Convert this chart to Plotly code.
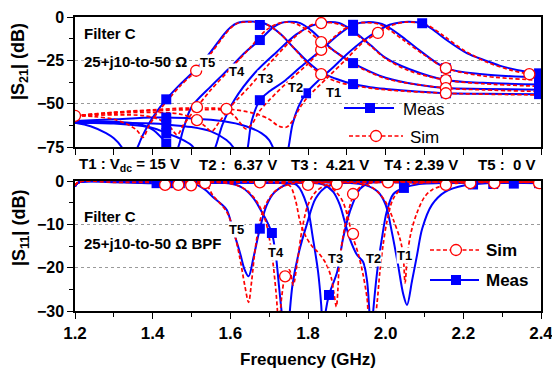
import plotly.graph_objects as go

W, H = 552, 371
ML, MR, MT, MB = 75, 11, 17, 60
PW = W - ML - MR
PH = H - MT - MB


def px(x):
    return (x - ML) / PW


def py(y):
    return (H - MB - y) / PH


BLUE = "#0000ff"
RED = "#ff0000"
FONT = "Arial, 'Liberation Sans', sans-serif"

# ---------------- |S21| measured ----------------
S21_MEAS_T5_F = [1.20, 1.24, 1.28, 1.30, 1.32, 1.337, 1.355, 1.375, 1.40, 1.435, 1.47, 1.512, 1.55, 1.58, 1.60, 1.62, 1.65, 1.68, 1.70, 1.73, 1.76, 1.80, 1.834, 1.87, 1.916, 1.96, 2.00, 2.08, 2.155, 2.25, 2.40]
S21_MEAS_T5_DB = [-61, -63, -67, -70, -75, -84, -78, -68, -58, -47.5, -39, -30, -20, -11, -6, -3.3, -2.6, -3.2, -5, -10, -17, -26, -32, -35.5, -38.7, -40.5, -41.5, -43, -44, -44.3, -44.5]
S21_MEAS_T4_F = [1.20, 1.30, 1.37, 1.40, 1.42, 1.435, 1.445, 1.46, 1.48, 1.50, 1.55, 1.60, 1.64, 1.676, 1.71, 1.73, 1.75, 1.78, 1.81, 1.834, 1.87, 1.916, 1.96, 2.00, 2.08, 2.155, 2.25, 2.40]
S21_MEAS_T4_DB = [-60, -60.5, -62, -65, -69, -73, -80, -78, -64, -52, -40, -29, -20, -13.3, -6, -3.5, -2.8, -3.5, -8, -13, -20, -26.6, -31.5, -35, -39, -41, -41.5, -42]
S21_MEAS_T3_F = [1.20, 1.30, 1.40, 1.435, 1.47, 1.50, 1.52, 1.54, 1.56, 1.58, 1.61, 1.664, 1.72, 1.77, 1.81, 1.845, 1.88, 1.916, 1.96, 2.00, 2.06, 2.155, 2.25, 2.40]
S21_MEAS_T3_DB = [-61, -61.5, -64, -67, -70, -74, -80, -84, -76, -62, -48, -32, -20, -10, -5, -3, -3.5, -8, -16, -23.6, -30, -36.4, -38, -39]
S21_MEAS_T2_F = [1.20, 1.30, 1.40, 1.435, 1.50, 1.55, 1.59, 1.61, 1.625, 1.64, 1.655, 1.676, 1.70, 1.736, 1.78, 1.834, 1.88, 1.916, 1.95, 1.98, 2.00, 2.04, 2.08, 2.155, 2.25, 2.40]
S21_MEAS_T2_DB = [-61, -61, -61.5, -62, -63.5, -66, -71, -76, -84, -80, -60, -48, -43, -37.5, -29, -19, -10, -4.5, -3, -3.5, -5, -11, -18, -29.5, -33, -35]
S21_MEAS_T1_F = [1.20, 1.30, 1.40, 1.435, 1.50, 1.58, 1.64, 1.68, 1.70, 1.715, 1.73, 1.745, 1.76, 1.775, 1.795, 1.83, 1.86, 1.90, 1.94, 1.98, 2.01, 2.04, 2.06, 2.094, 2.12, 2.155, 2.21, 2.256, 2.30, 2.367, 2.40]
S21_MEAS_T1_DB = [-60, -59, -58, -58, -58.5, -60, -63, -67, -71, -78, -86, -80, -62, -52, -44, -36, -30, -21.5, -14, -8, -4.5, -3, -2.7, -3.6, -7, -13, -21, -25, -28.5, -31.7, -32.5]

# measured marker readings
S21_MEAS_T5_MF = [1.435, 1.676, 1.916, 2.155, 2.395]
S21_MEAS_T5_MDB = [-47.5, -4.6, -38.7, -44, -44.5]
S21_MEAS_T4_MF = [1.435, 1.676, 1.916, 2.155, 2.395]
S21_MEAS_T4_MDB = [-73, -13.3, -26.6, -41, -42]
S21_MEAS_T3_MF = [1.435, 1.916, 2.155, 2.395]
S21_MEAS_T3_MDB = [-67, -8, -36.4, -39]
S21_MEAS_T2_MF = [1.435, 1.676, 1.916, 2.155, 2.395]
S21_MEAS_T2_MDB = [-62, -48, -4.5, -29.5, -35]
S21_MEAS_T1_MF = [1.435, 1.795, 2.094, 2.395]
S21_MEAS_T1_MDB = [-58, -44, -3.6, -32.5]

# ---------------- |S21| simulated ----------------
S21_SIM_T5_F = [1.20, 1.25, 1.30, 1.34, 1.36, 1.375, 1.39, 1.41, 1.435, 1.47, 1.512, 1.55, 1.58, 1.60, 1.62, 1.65, 1.68, 1.70, 1.73, 1.76, 1.80, 1.834, 1.87, 1.916, 2.00, 2.155, 2.25, 2.40]
S21_SIM_T5_DB = [-57, -57.5, -59, -62.5, -65.5, -69.5, -63, -56, -49, -40, -31, -21, -12, -6.5, -3.5, -2.8, -3.2, -5, -10, -17, -27, -33, -37, -39.5, -42, -44, -44.5, -45]
S21_SIM_T4_F = [1.20, 1.30, 1.38, 1.42, 1.445, 1.463, 1.48, 1.514, 1.55, 1.60, 1.65, 1.69, 1.72, 1.745, 1.77, 1.80, 1.834, 1.87, 1.916, 2.00, 2.155, 2.25, 2.40]
S21_SIM_T4_DB = [-57, -56.5, -57, -59.5, -63.5, -68, -62, -52, -42, -30, -18, -8, -4, -3, -4, -8, -14.5, -20, -27, -35.5, -41, -42, -43]
S21_SIM_T3_F = [1.20, 1.30, 1.40, 1.47, 1.514, 1.535, 1.552, 1.57, 1.60, 1.65, 1.70, 1.75, 1.79, 1.815, 1.834, 1.86, 1.89, 1.916, 1.96, 2.00, 2.06, 2.155, 2.25, 2.40]
S21_SIM_T3_DB = [-57, -55.5, -55, -56, -59.5, -63, -66, -61, -52, -40, -27, -15, -7, -4, -3.5, -3.3, -5, -8.5, -16.5, -24, -31, -36.4, -38.5, -40]
S21_SIM_T2_F = [1.20, 1.30, 1.40, 1.514, 1.59, 1.61, 1.625, 1.64, 1.655, 1.673, 1.70, 1.75, 1.80, 1.834, 1.87, 1.90, 1.93, 1.95, 1.98, 2.00, 2.05, 2.10, 2.155, 2.25, 2.40]
S21_SIM_T2_DB = [-57, -55, -54, -53.5, -54, -57, -61, -64.5, -62, -55, -48, -37, -27, -19, -11, -6, -3.5, -3.2, -4, -6, -14, -22, -29.5, -34, -36.5]
S21_SIM_T1_F = [1.20, 1.30, 1.40, 1.50, 1.59, 1.66, 1.70, 1.725, 1.745, 1.76, 1.78, 1.80, 1.85, 1.90, 1.94, 1.98, 2.02, 2.05, 2.08, 2.11, 2.15, 2.20, 2.26, 2.32, 2.37, 2.40]
S21_SIM_T1_DB = [-57, -55, -53.5, -52.5, -53, -55.5, -59, -63, -63.5, -60, -52, -46, -35, -24, -15, -9.2, -4.5, -3, -3.2, -5, -11, -19, -26, -30.5, -33, -34]

S21_SIM_T5_MF = [1.20, 1.512, 1.834, 2.155]
S21_SIM_T5_MDB = [-57, -31, -33, -44]
S21_SIM_T4_MF = [1.514, 1.834, 2.155]
S21_SIM_T4_MDB = [-52, -14.5, -41]
S21_SIM_T3_MF = [1.514, 1.834, 2.155]
S21_SIM_T3_MDB = [-59.5, -3.5, -36.4]
S21_SIM_T2_MF = [1.834, 2.155]
S21_SIM_T2_MDB = [-19, -29.5]
S21_SIM_T1_MF = [1.59, 1.98, 2.37]
S21_SIM_T1_MDB = [-53, -9.2, -33]

# ---------------- |S11| measured ----------------
S11_MEAS_T5_F = [1.20, 1.21, 1.30, 1.40, 1.45, 1.50, 1.514, 1.535, 1.555, 1.575, 1.591, 1.607, 1.625, 1.637, 1.647, 1.66, 1.676, 1.694, 1.715, 1.754, 1.80, 2.00, 2.40]
S11_MEAS_T5_DB = [-1.2, -0.3, -0.3, -0.5, -0.6, -0.6, -0.9, -2, -3.7, -5.2, -6.7, -11.3, -16.6, -20.5, -22, -17.5, -11, -5.5, -2.5, -0.5, -0.3, -0.3, -0.4]
S11_MEAS_T4_F = [1.20, 1.21, 1.40, 1.55, 1.60, 1.63, 1.66, 1.68, 1.695, 1.707, 1.717, 1.725, 1.733, 1.742, 1.75, 1.76, 1.775, 1.797, 1.82, 1.85, 1.90, 2.10, 2.40]
S11_MEAS_T4_DB = [-1.2, -0.3, -0.4, -0.4, -0.6, -1.5, -4, -7, -9.5, -12, -17, -24, -31, -38, -33, -24, -17, -10, -4, -1.2, -0.4, -0.3, -0.4]
S11_MEAS_T3_F = [1.20, 1.21, 1.50, 1.70, 1.74, 1.772, 1.797, 1.813, 1.826, 1.834, 1.839, 1.844, 1.854, 1.875, 1.89, 1.908, 1.934, 1.96, 2.10, 2.40]
S11_MEAS_T3_DB = [-1.2, -0.3, -0.4, -0.4, -0.5, -1, -5.5, -13.4, -21, -28.6, -36, -31, -26.3, -21, -13.4, -7, -1.8, -0.4, -0.3, -0.4]
S11_MEAS_T2_F = [1.20, 1.21, 1.60, 1.80, 1.84, 1.865, 1.882, 1.895, 1.908, 1.926, 1.942, 1.952, 1.958, 1.963, 1.967, 1.978, 1.99, 2.003, 2.02, 2.047, 2.08, 2.20, 2.40]
S11_MEAS_T2_DB = [-1.2, -0.3, -0.4, -0.4, -0.8, -2.5, -5.5, -9.5, -13.4, -17, -18.7, -23, -30, -36, -31, -21, -13.4, -7, -3, -1.6, -0.8, -0.4, -0.5]
S11_MEAS_T1_F = [1.20, 1.21, 1.70, 1.90, 1.95, 1.98, 2.00, 2.016, 2.032, 2.045, 2.055, 2.068, 2.081, 2.094, 2.119, 2.153, 2.204, 2.26, 2.40]
S11_MEAS_T1_DB = [-1.2, -0.3, -0.4, -0.4, -1, -2.5, -5.5, -11.8, -19.4, -26, -28.6, -23, -17, -11, -5.5, -2.5, -1, -0.5, -0.5]

S11_MEAS_T5_MF = [1.676]
S11_MEAS_T5_MDB = [-11]
S11_MEAS_T4_MF = [1.707]
S11_MEAS_T4_MDB = [-12]
S11_MEAS_T3_MF = [1.854]
S11_MEAS_T3_MDB = [-26.3]
S11_MEAS_T2_MF = [2.047]
S11_MEAS_T2_MDB = [-1.6]
S11_MEAS_T1_MF = [1.41, 1.44, 1.47, 2.225, 2.277, 2.33, 2.395]
S11_MEAS_T1_MDB = [-0.5, -0.5, -0.5, -0.8, -0.7, -0.6, -0.5]

# ---------------- |S11| simulated ----------------
S11_SIM_T5_F = [1.20, 1.21, 1.30, 1.40, 1.432, 1.45, 1.466, 1.482, 1.499, 1.515, 1.535, 1.555, 1.59, 1.61, 1.625, 1.637, 1.647, 1.655, 1.665, 1.68, 1.70, 1.72, 1.76, 1.80, 2.00, 2.40]
S11_SIM_T5_DB = [-1.0, -0.2, -0.3, -0.4, -0.9, -0.5, -0.9, -0.5, -1, -0.6, -0.5, -3.3, -7, -12, -18, -24, -28, -23, -15, -8, -4, -2, -0.6, -0.3, -0.3, -0.3]
S11_SIM_T4_F = [1.20, 1.21, 1.50, 1.60, 1.64, 1.67, 1.69, 1.70, 1.71, 1.718, 1.725, 1.732, 1.741, 1.752, 1.762, 1.772, 1.785, 1.80, 1.82, 1.85, 1.90, 2.40]
S11_SIM_T4_DB = [-1.0, -0.2, -0.3, -0.6, -2, -5, -9, -13, -19, -26, -33, -27, -22, -20.5, -24, -19, -11, -5.5, -2.5, -0.8, -0.3, -0.3]
S11_SIM_T3_F = [1.20, 1.21, 1.60, 1.70, 1.73, 1.754, 1.768, 1.78, 1.795, 1.81, 1.821, 1.835, 1.846, 1.859, 1.867, 1.873, 1.877, 1.88, 1.89, 1.903, 1.918, 1.94, 1.97, 2.40]
S11_SIM_T3_DB = [-1.0, -0.2, -0.3, -0.3, -0.5, -1.2, -4.5, -9.5, -12.9, -15, -16, -17.5, -19, -22, -26, -29, -25, -19.9, -12.9, -7.4, -3.2, -1, -0.4, -0.3]
S11_SIM_T2_F = [1.20, 1.21, 1.70, 1.80, 1.85, 1.875, 1.89, 1.903, 1.913, 1.93, 1.942, 1.952, 1.96, 1.97, 1.978, 1.985, 1.993, 2.003, 2.02, 2.05, 2.10, 2.40]
S11_SIM_T2_DB = [-1.0, -0.2, -0.3, -0.3, -1, -2.8, -4.8, -8.5, -12.2, -17, -21.7, -27, -34, -33, -28, -21, -15, -9.5, -4, -1.2, -0.4, -0.3]
S11_SIM_T1_F = [1.20, 1.21, 1.80, 1.90, 1.95, 1.97, 1.985, 2.001, 2.02, 2.037, 2.045, 2.05, 2.056, 2.065, 2.08, 2.10, 2.12, 2.16, 2.20, 2.40]
S11_SIM_T1_DB = [-1.0, -0.2, -0.3, -0.4, -0.8, -1.8, -3, -5, -9, -13.4, -17, -23.5, -17, -12, -7.5, -3.7, -2, -0.8, -0.4, -0.3]

S11_SIM_T5_MF = [1.432, 1.466, 1.499, 1.535]
S11_SIM_T5_MDB = [-0.9, -0.9, -1.0, -0.5]
S11_SIM_T4_MF = [1.741, 2.006]
S11_SIM_T4_MDB = [-22, -0.3]
S11_SIM_T3_MF = [1.676, 1.916]
S11_SIM_T3_MDB = [-0.3, -3.0]
S11_SIM_T2_MF = [1.80, 1.916, 2.155]
S11_SIM_T2_MDB = [-0.9, -12.2, -0.9]
S11_SIM_T1_MF = [1.874, 2.218, 2.28, 2.395]
S11_SIM_T1_MDB = [-0.7, -0.5, -0.5, -0.5]

STATE_LABELS = ["T1", "T2", "T3", "T4", "T5"]
BIAS_TEXT = ["T1 : V<sub>dc</sub> = 15 V", "T2 :  6.37 V", "T3 :  4.21 V", "T4 : 2.39 V", "T5 :  0 V"]

fig = go.Figure()


def line(f, db, color, dash, xa, ya, width):
    fig.add_trace(go.Scatter(x=f, y=db, mode="lines", xaxis=xa, yaxis=ya,
                             line=dict(color=color, width=width, dash=dash, shape="spline", smoothing=0.9),
                             showlegend=False, hoverinfo="skip"))


def marks(f, db, kind, xa, ya):
    if kind == "sq":
        m = dict(symbol="square", size=10, color=BLUE, line=dict(width=0))
    else:
        m = dict(symbol="circle", size=11, color="white", line=dict(color=RED, width=1.3))
    fig.add_trace(go.Scatter(x=f, y=db, mode="markers", xaxis=xa, yaxis=ya, marker=m,
                             showlegend=False, hoverinfo="skip", cliponaxis=True))


meas21 = [(S21_MEAS_T1_F, S21_MEAS_T1_DB), (S21_MEAS_T2_F, S21_MEAS_T2_DB), (S21_MEAS_T3_F, S21_MEAS_T3_DB),
          (S21_MEAS_T4_F, S21_MEAS_T4_DB), (S21_MEAS_T5_F, S21_MEAS_T5_DB)]
sim21 = [(S21_SIM_T1_F, S21_SIM_T1_DB), (S21_SIM_T2_F, S21_SIM_T2_DB), (S21_SIM_T3_F, S21_SIM_T3_DB),
         (S21_SIM_T4_F, S21_SIM_T4_DB), (S21_SIM_T5_F, S21_SIM_T5_DB)]
meas21m = [(S21_MEAS_T1_MF, S21_MEAS_T1_MDB), (S21_MEAS_T2_MF, S21_MEAS_T2_MDB), (S21_MEAS_T3_MF, S21_MEAS_T3_MDB),
           (S21_MEAS_T4_MF, S21_MEAS_T4_MDB), (S21_MEAS_T5_MF, S21_MEAS_T5_MDB)]
sim21m = [(S21_SIM_T1_MF, S21_SIM_T1_MDB), (S21_SIM_T2_MF, S21_SIM_T2_MDB), (S21_SIM_T3_MF, S21_SIM_T3_MDB),
          (S21_SIM_T4_MF, S21_SIM_T4_MDB), (S21_SIM_T5_MF, S21_SIM_T5_MDB)]
meas11 = [(S11_MEAS_T1_F, S11_MEAS_T1_DB), (S11_MEAS_T2_F, S11_MEAS_T2_DB), (S11_MEAS_T3_F, S11_MEAS_T3_DB),
          (S11_MEAS_T4_F, S11_MEAS_T4_DB), (S11_MEAS_T5_F, S11_MEAS_T5_DB)]
sim11 = [(S11_SIM_T1_F, S11_SIM_T1_DB), (S11_SIM_T2_F, S11_SIM_T2_DB), (S11_SIM_T3_F, S11_SIM_T3_DB),
         (S11_SIM_T4_F, S11_SIM_T4_DB), (S11_SIM_T5_F, S11_SIM_T5_DB)]
meas11m = [(S11_MEAS_T1_MF, S11_MEAS_T1_MDB), (S11_MEAS_T2_MF, S11_MEAS_T2_MDB), (S11_MEAS_T3_MF, S11_MEAS_T3_MDB),
           (S11_MEAS_T4_MF, S11_MEAS_T4_MDB), (S11_MEAS_T5_MF, S11_MEAS_T5_MDB)]
sim11m = [(S11_SIM_T1_MF, S11_SIM_T1_MDB), (S11_SIM_T2_MF, S11_SIM_T2_MDB), (S11_SIM_T3_MF, S11_SIM_T3_MDB),
          (S11_SIM_T4_MF, S11_SIM_T4_MDB), (S11_SIM_T5_MF, S11_SIM_T5_MDB)]

DASH = "4px,2.5px"
for f, d in meas21:
    line(f, d, BLUE, "solid", "x", "y", 2)
for f, d in sim21:
    line(f, d, RED, DASH, "x", "y", 1.7)
for f, d in meas11:
    line(f, d, BLUE, "solid", "x2", "y2", 2)
for f, d in sim11:
    line(f, d, RED, DASH, "x2", "y2", 1.7)
for f, d in meas21m:
    marks(f, d, "sq", "x", "y")
for f, d in meas11m:
    marks(f, d, "sq", "x2", "y2")
for f, d in sim21m:
    marks(f, d, "ci", "x", "y")
for f, d in sim11m:
    marks(f, d, "ci", "x2", "y2")

tickfont = dict(family=FONT, size=16, color="black", weight="bold")
common = dict(showline=True, linecolor="black", linewidth=1.5, zeroline=False, automargin=False,
              tickcolor="black", tickwidth=1.3)

fig.update_layout(
    width=W, height=H, margin=dict(l=ML, r=MR, t=MT, b=MB, autoexpand=False),
    paper_bgcolor="white", plot_bgcolor="white", showlegend=False,
    font=dict(family=FONT, color="black"),
    xaxis=dict(domain=[0, 1], anchor="y", range=[1.2, 2.4], tick0=1.2, dtick=0.1, ticks="outside",
               ticklen=6, showticklabels=False, showgrid=False, mirror=True, **common),
    yaxis=dict(domain=[py(147), 1], anchor="x", range=[-75, 0], tick0=0, dtick=25, ticks="outside",
               ticklen=6, minor=dict(dtick=12.5, ticks="outside", ticklen=4, tickcolor="black"),
               showgrid=True, gridcolor="#9a9a9a", griddash="dot", gridwidth=1, mirror=True,
               tickfont=tickfont, ticklabeloverflow="allow", **common),
    yaxis3=dict(overlaying="y", side="right", anchor="x", range=[-75, 0], tick0=0, dtick=12.5,
                ticks="inside", ticklen=5, tickcolor="black", tickwidth=1.3, showticklabels=False,
                showgrid=False, showline=False, zeroline=False, automargin=False),
    xaxis2=dict(domain=[0, 1], anchor="y2", range=[1.2, 2.4], tick0=1.2, dtick=0.2, ticks="outside",
                ticklen=6, minor=dict(dtick=0.1, ticks="outside", ticklen=4, tickcolor="black"),
                tickformat=".1f", showgrid=False, mirror=True, ticklabeloverflow="allow",
                tickfont=dict(family=FONT, size=17, color="black", weight="bold"), **common),
    yaxis2=dict(domain=[0, py(181)], anchor="x2", range=[-30, 0], tick0=0, dtick=10, ticks="outside",
                ticklen=6, minor=dict(dtick=5, ticks="outside", ticklen=4, tickcolor="black"),
                showgrid=True, gridcolor="#9a9a9a", griddash="dot", gridwidth=1, mirror=True,
                tickfont=tickfont, ticklabeloverflow="allow", **common),
    yaxis4=dict(overlaying="y2", side="right", anchor="x2", range=[-30, 0], tick0=0, dtick=5,
                ticks="inside", ticklen=5, tickcolor="black", tickwidth=1.3, showticklabels=False,
                showgrid=False, showline=False, zeroline=False, automargin=False),
)

ann = []


def text(x, y, s, size, bold=True, xanchor="left", angle=0, bg=None):
    d = dict(x=px(x), y=py(y), xref="paper", yref="paper", text=s, showarrow=False,
             xanchor=xanchor, yanchor="middle", textangle=angle,
             font=dict(family=FONT, size=size, color="black", weight="bold" if bold else "normal"))
    if bg:
        d["bgcolor"] = bg
        d["borderpad"] = 0
    ann.append(d)


# axis titles
text(20, 62, "|S<sub>21</sub>| (dB)", 18, xanchor="center", angle=-90)
text(20, 228, "|S<sub>11</sub>| (dB)", 18, xanchor="center", angle=-90)
text(308, 359, "Frequency (GHz)", 17, xanchor="center")

# top panel labels
text(82, 34, "Filter C", 15)
text(82, 61, "25+j10-to-50 Ω", 15)
top_lbl_xy = [(333, 93), (295, 87), (265, 78), (237, 71), (207, 63)]
for s, (x, y) in zip(STATE_LABELS, top_lbl_xy):
    text(x, y, s, 13, xanchor="center", bg="white")

# bias row
bias_x = [77, 197, 289, 382, 476]
for s, x in zip(BIAS_TEXT, bias_x):
    text(x, 164, s, 15)

# bottom panel labels
text(82, 216, "Filter C", 15)
text(82, 243, "25+j10-to-50 Ω BPF", 15)
bot_lbl_xy = [(404, 255), (373, 258), (335, 258), (276, 252), (236, 229)]
for s, (x, y) in zip(STATE_LABELS, bot_lbl_xy):
    text(x, y, s, 13, xanchor="center", bg="white")

# legends
text(401, 109, "Meas", 17, bold=False)
text(408, 137, "Sim", 17, bold=False)
text(484, 250, "Sim", 17)
text(484, 280, "Meas", 17)

shapes = []


def lshape(x0, x1, y, color, dash):
    shapes.append(dict(type="line", xref="paper", yref="paper", x0=px(x0), x1=px(x1), y0=py(y), y1=py(y),
                       line=dict(color=color, width=2 if dash == "solid" else 1.7, dash=dash)))


def sq(x, y):
    shapes.append(dict(type="rect", xref="paper", yref="paper", x0=px(x - 5), x1=px(x + 5), y0=py(y + 5),
                       y1=py(y - 5), fillcolor=BLUE, line=dict(width=0)))


def ci(x, y):
    shapes.append(dict(type="circle", xref="paper", yref="paper", x0=px(x - 5.5), x1=px(x + 5.5),
                       y0=py(y + 5.5), y1=py(y - 5.5), fillcolor="white", line=dict(color=RED, width=1.3)))


lshape(344, 394, 108, BLUE, "solid"); sq(370, 108)
lshape(349, 403, 136, RED, DASH); ci(376, 136)
lshape(430, 479, 250, RED, DASH); ci(456, 250)
lshape(430, 479, 280, BLUE, "solid"); sq(456, 280)

fig.update_layout(annotations=ann, shapes=shapes)
fig.write_html("out.html", config={"displayModeBar": False},
               post_script="document.body.style.margin='0px';document.body.style.overflow='hidden';")
